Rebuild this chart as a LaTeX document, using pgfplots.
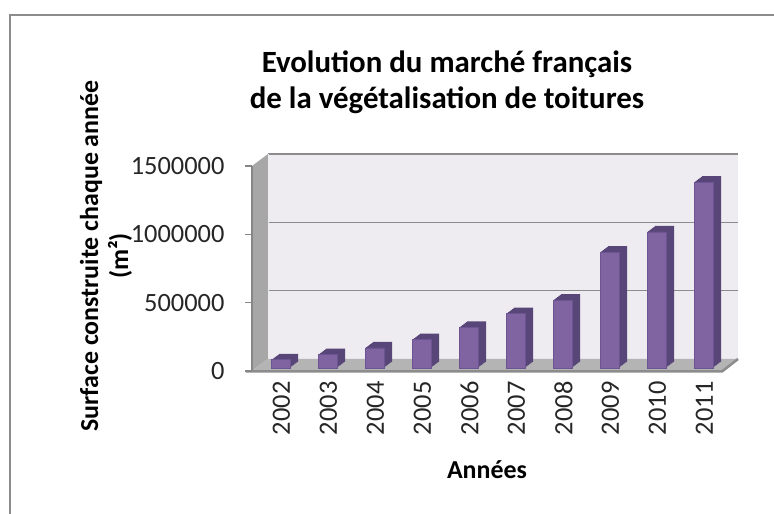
\documentclass[border=0pt]{standalone}
\usepackage{pgfplots}
\pgfplotsset{compat=1.18}
\usepackage{pgfplotstable}
\usepackage{fontspec}
\setmainfont{Carlito}
\definecolor{barfront}{HTML}{8064A2}
\definecolor{barside}{HTML}{584679}
\definecolor{barline}{HTML}{6B5491}
\definecolor{backwall}{HTML}{EEECF1}
\definecolor{sidewall}{HTML}{A7A7A7}
\definecolor{floorc}{HTML}{B4B4B4}
\definecolor{gridc}{HTML}{8C8C8C}
\definecolor{axisc}{HTML}{868686}

\pgfplotstableread{
idx year value
0 2002 60000
1 2003 98000
2 2004 147000
3 2005 207000
4 2006 298000
5 2007 398000
6 2008 496000
7 2009 848000
8 2010 996000
9 2011 1360000
}\data

\begin{document}
\begin{tikzpicture}
\begin{scope}[x=1bp,y=1bp]
\path[use as bounding box] (0,0) rectangle (774,514);
% outer border
\draw[gridc, line width=2bp] (9.5,0) -- (9.5,498.5) -- (774,498.5);
% back wall
\fill[backwall] (268,155) rectangle (738,360);
\foreach \yy in {223.33,291.67,360} {\draw[gridc, line width=1.4bp] (268,\yy) -- (738,\yy);}
% left wall
\fill[sidewall] (252,143) -- (268,155) -- (268,360) -- (252,348) -- cycle;
\draw[white!85!gray, line width=0.8bp] (268,155) -- (268,360);
% floor
\fill[floorc] (252,143) -- (722,143) -- (738,155) -- (268,155) -- cycle;
\draw[gridc, line width=2.5bp] (246,142.5) -- (722,142.5) -- (738,155);
\end{scope}

\begin{axis}[
  at={(252bp,143bp)}, anchor=south west,
  scale only axis, width=470bp, height=205bp,
  xmin=-0.5, xmax=9.5, ymin=0, ymax=1500000,
  clip=false,
  axis x line*=bottom, axis y line*=left,
  x axis line style={draw=none},
  y axis line style={draw=axisc, line width=1.4bp},
  ytick={0,500000,1000000,1500000},
  scaled y ticks=false,
  yticklabel style={/pgf/number format/fixed, /pgf/number format/set thousands separator={}, font=\fontsize{26.5}{30}\selectfont, xshift=-17bp, text=black!85},
  /pgf/number format/assume math mode=true,
  xtick={0,...,9},
  xticklabels={2002,2003,2004,2005,2006,2007,2008,2009,2010,2011},
  xticklabel style={rotate=90, anchor=east, font=\fontsize{26.5}{30}\selectfont, yshift=-6bp, text=black!85},
  major x tick style={draw=none},
  tick align=outside, major tick length=7bp,
  major y tick style={draw=axisc, line width=1.4bp},
]
\pgfplotsinvokeforeach{8,7,...,1}{
  \addplot[ybar, bar width=19bp, bar shift=0pt, fill=barside, draw=none,
    xshift={5bp+#1bp}, yshift={3bp+0.75*#1bp}] table[x=idx, y=value] {\data};
}
\addplot[ybar, bar width=19bp, bar shift=0pt, fill=barfront, draw=barline, line width=0.6bp,
  xshift=5bp, yshift=3bp] table[x=idx, y=value] {\data};
\end{axis}

\begin{scope}[x=1bp,y=1bp]
\node[align=center, font=\bfseries\fontsize{31}{36.5}\selectfont] at (447,432) {Evolution du marché français\\de la végétalisation de toitures};
\node[font=\bfseries\fontsize{26}{30}\selectfont] at (487,44) {Années};
\node[rotate=90, align=center, font=\bfseries\fontsize{26}{30}\selectfont] at (106,258) {Surface construite chaque année\\(m²)};
\end{scope}
\end{tikzpicture}
\end{document}
